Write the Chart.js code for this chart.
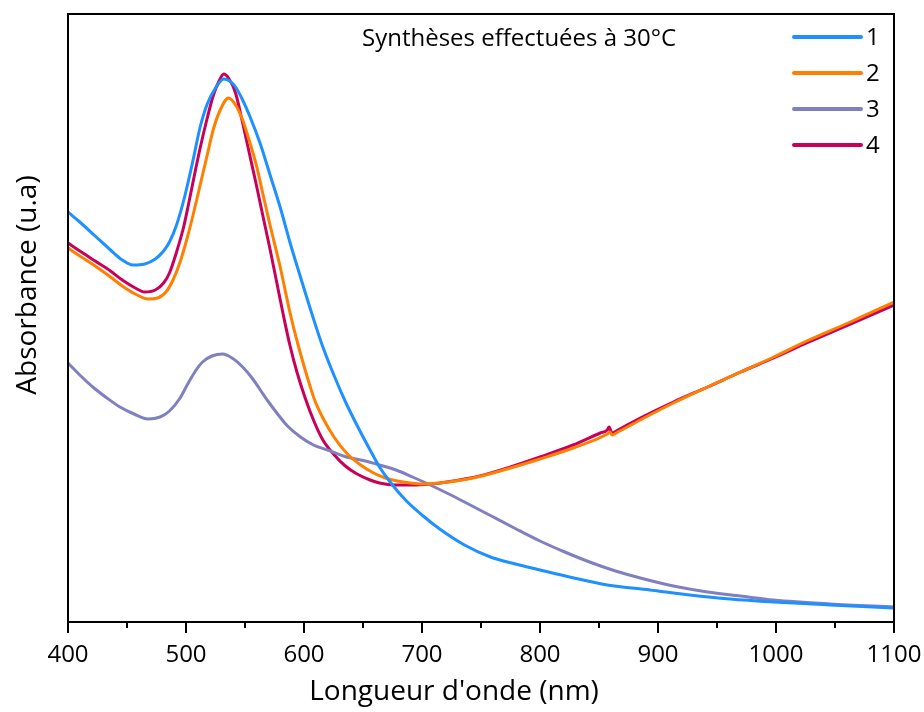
<!DOCTYPE html>
<html><head><meta charset="utf-8">
<script src="https://cdn.jsdelivr.net/npm/chart.js@4.4.1/dist/chart.umd.min.js"></script>
<style>html,body{margin:0;padding:0;background:#fff;}#wrap{width:924px;height:712px;}</style>
</head><body><div id="wrap"><canvas id="c" width="924" height="712"></canvas></div>
<script>
// Wavelengths (nm) and absorbance (a.u.)
const wl1 = [400,410,423,436,446,455,465,474,481,486,492,499,506,512,518,525,532,537,542,548,554,563,571,580,588,597,607,616,626,636,647,656,664,673,686,701,715,736,758,779,800,825,857,893,927,961,998,1046,1100];
const abs1 = [0.820,0.800,0.772,0.744,0.724,0.714,0.716,0.726,0.742,0.760,0.794,0.852,0.924,0.990,1.036,1.068,1.086,1.082,1.070,1.044,1.012,0.956,0.896,0.828,0.760,0.690,0.614,0.550,0.490,0.436,0.384,0.344,0.310,0.280,0.244,0.212,0.186,0.154,0.130,0.116,0.104,0.090,0.074,0.064,0.054,0.046,0.040,0.034,0.028];
const wl2 = [400,410,423,436,446,457,468,476,483,489,495,501,506,512,518,523,529,536,542,548,554,560,565,571,580,588,595,603,609,616,626,636,648,659,669,679,690,701,715,743,772,800,828,857,859.3,861,866,885,913,942,970,998,1026,1063,1100];
const abs2 = [0.748,0.732,0.712,0.690,0.672,0.656,0.646,0.648,0.660,0.684,0.720,0.768,0.814,0.874,0.934,0.984,1.024,1.048,1.034,1.004,0.960,0.910,0.858,0.796,0.708,0.620,0.554,0.488,0.444,0.408,0.368,0.338,0.314,0.298,0.288,0.282,0.278,0.276,0.278,0.288,0.306,0.326,0.348,0.376,0.380,0.374,0.380,0.404,0.438,0.470,0.500,0.530,0.562,0.600,0.640];
const wl3 = [400,410,421,433,444,456,468,478,486,495,501,508,514,522,531,539,548,556,563,570,577,586,597,608,620,636,652,664,678,692,707,721,736,758,779,800,821,842,864,885,913,942,970,998,1046,1100];
const abs3 = [0.518,0.494,0.470,0.448,0.430,0.416,0.406,0.410,0.422,0.448,0.474,0.502,0.520,0.532,0.536,0.528,0.510,0.488,0.464,0.440,0.418,0.392,0.370,0.354,0.344,0.330,0.322,0.314,0.304,0.290,0.274,0.258,0.240,0.213,0.187,0.162,0.140,0.120,0.102,0.088,0.072,0.060,0.052,0.044,0.036,0.030];
const wl4 = [400,410,423,436,446,457,465,474,481,486,492,498,502,507,512,518,523,528,532,536,542,548,554,560,565,571,577,583,588,594,601,608,616,625,635,645,656,664,677,692,707,721,749,775,800,828,851,857,858.5,861,866,885,913,942,970,998,1026,1063,1100];
const abs4 = [0.758,0.742,0.722,0.702,0.684,0.668,0.660,0.664,0.678,0.698,0.740,0.790,0.834,0.892,0.948,1.008,1.052,1.082,1.096,1.088,1.058,0.998,0.934,0.870,0.814,0.748,0.678,0.608,0.554,0.500,0.448,0.404,0.364,0.336,0.312,0.296,0.284,0.278,0.274,0.274,0.276,0.280,0.292,0.310,0.330,0.354,0.378,0.384,0.390,0.378,0.384,0.408,0.440,0.470,0.500,0.528,0.558,0.596,0.634];
const seriesLabels = ['1','2','3','4'];
const seriesColors = ['#1E90FF','#FF7F00','#8080C0','#C8005A'];
const xMin = 400, xMax = 1100, xStep = 100, xMinorStep = 50;
const yMin = 0, yMax = 1.216;
const chartTitle = 'Synthèses effectuées à 30°C';
const xTitle = "Longueur d'onde (nm)";
const yTitle = 'Absorbance (u.a)';

const FONT = "'Open Sans', sans-serif";
function pts(xs, ys){ return xs.map((x,i)=>({x:x, y:ys[i]})); }
const allWl = [wl1,wl2,wl3,wl4], allAbs = [abs1,abs2,abs3,abs4];
const datasets = seriesLabels.map((lab,i)=>({
  label: lab, data: pts(allWl[i], allAbs[i]), borderColor: seriesColors[i], backgroundColor: seriesColors[i],
  borderWidth: 3, pointRadius: 0, fill: false, cubicInterpolationMode: 'monotone'
}));
const decor = {
  id:'decor',
  afterDatasetsDraw(chart){
    const {ctx, chartArea:a, scales:{x}} = chart;
    ctx.save();
    ctx.strokeStyle = '#000'; ctx.lineWidth = 2;
    ctx.strokeRect(a.left, a.top, a.right - a.left, a.bottom - a.top);
    for (let v = xMin + xMinorStep; v < xMax; v += xStep) {
      const px = Math.round(x.getPixelForValue(v));
      ctx.beginPath(); ctx.moveTo(px, a.bottom); ctx.lineTo(px, a.bottom + 6); ctx.stroke();
    }
    ctx.fillStyle = '#000'; ctx.textBaseline = 'middle';
    ctx.font = "24px " + FONT; ctx.textAlign = 'left';
    ctx.fillText(chartTitle, 362, 39);
    ctx.font = "28px " + FONT; ctx.textAlign = 'center';
    ctx.fillText(xTitle, 454, 692);
    ctx.save();
    ctx.translate(28, 285); ctx.rotate(-Math.PI/2);
    ctx.textAlign = 'center'; ctx.font = "28px " + FONT;
    ctx.fillText(yTitle, 0, 0);
    ctx.restore();
    chart.data.datasets.forEach((ds, i) => {
      const y = 37 + i * 36;
      ctx.strokeStyle = ds.borderColor; ctx.lineWidth = 4; ctx.lineCap = 'round';
      ctx.beginPath(); ctx.moveTo(794, y); ctx.lineTo(861, y); ctx.stroke();
      ctx.fillStyle = '#000'; ctx.font = "24px " + FONT; ctx.textBaseline = 'middle'; ctx.textAlign = 'left';
      ctx.fillText(ds.label, 866, y + 1);
    });
    ctx.restore();
  }
};
new Chart(document.getElementById('c'), {
  type: 'line',
  data: { datasets },
  options: {
    responsive: false, animation: false,
    layout: { padding: { top: 14, right: 30, left: 0, bottom: 0 } },
    plugins: { legend: { display: false }, tooltip: { enabled: false } },
    scales: {
      x: {
        type: 'linear', min: xMin, max: xMax,
        ticks: { stepSize: xStep, color: '#000', font: { family: FONT, size: 24 }, padding: 8, maxRotation: 0, autoSkip: false,
                 callback: (v) => String(v) },
        grid: { display: true, drawOnChartArea: false, drawTicks: true, tickLength: 11, color: '#000', lineWidth: 2 },
        border: { display: true, color: '#000', width: 2 },
        title: { display: false },
        afterFit(s) { s.height = 90; s.paddingLeft = 0; s.paddingRight = 0; }
      },
      y: {
        min: yMin, max: yMax,
        ticks: { display: false },
        grid: { display: false, drawTicks: false },
        border: { display: true, color: '#000', width: 2 },
        title: { display: false },
        afterFit(s) { s.width = 68; s.paddingTop = 0; s.paddingBottom = 0; }
      }
    }
  },
  plugins: [decor]
});
</script></body></html>
